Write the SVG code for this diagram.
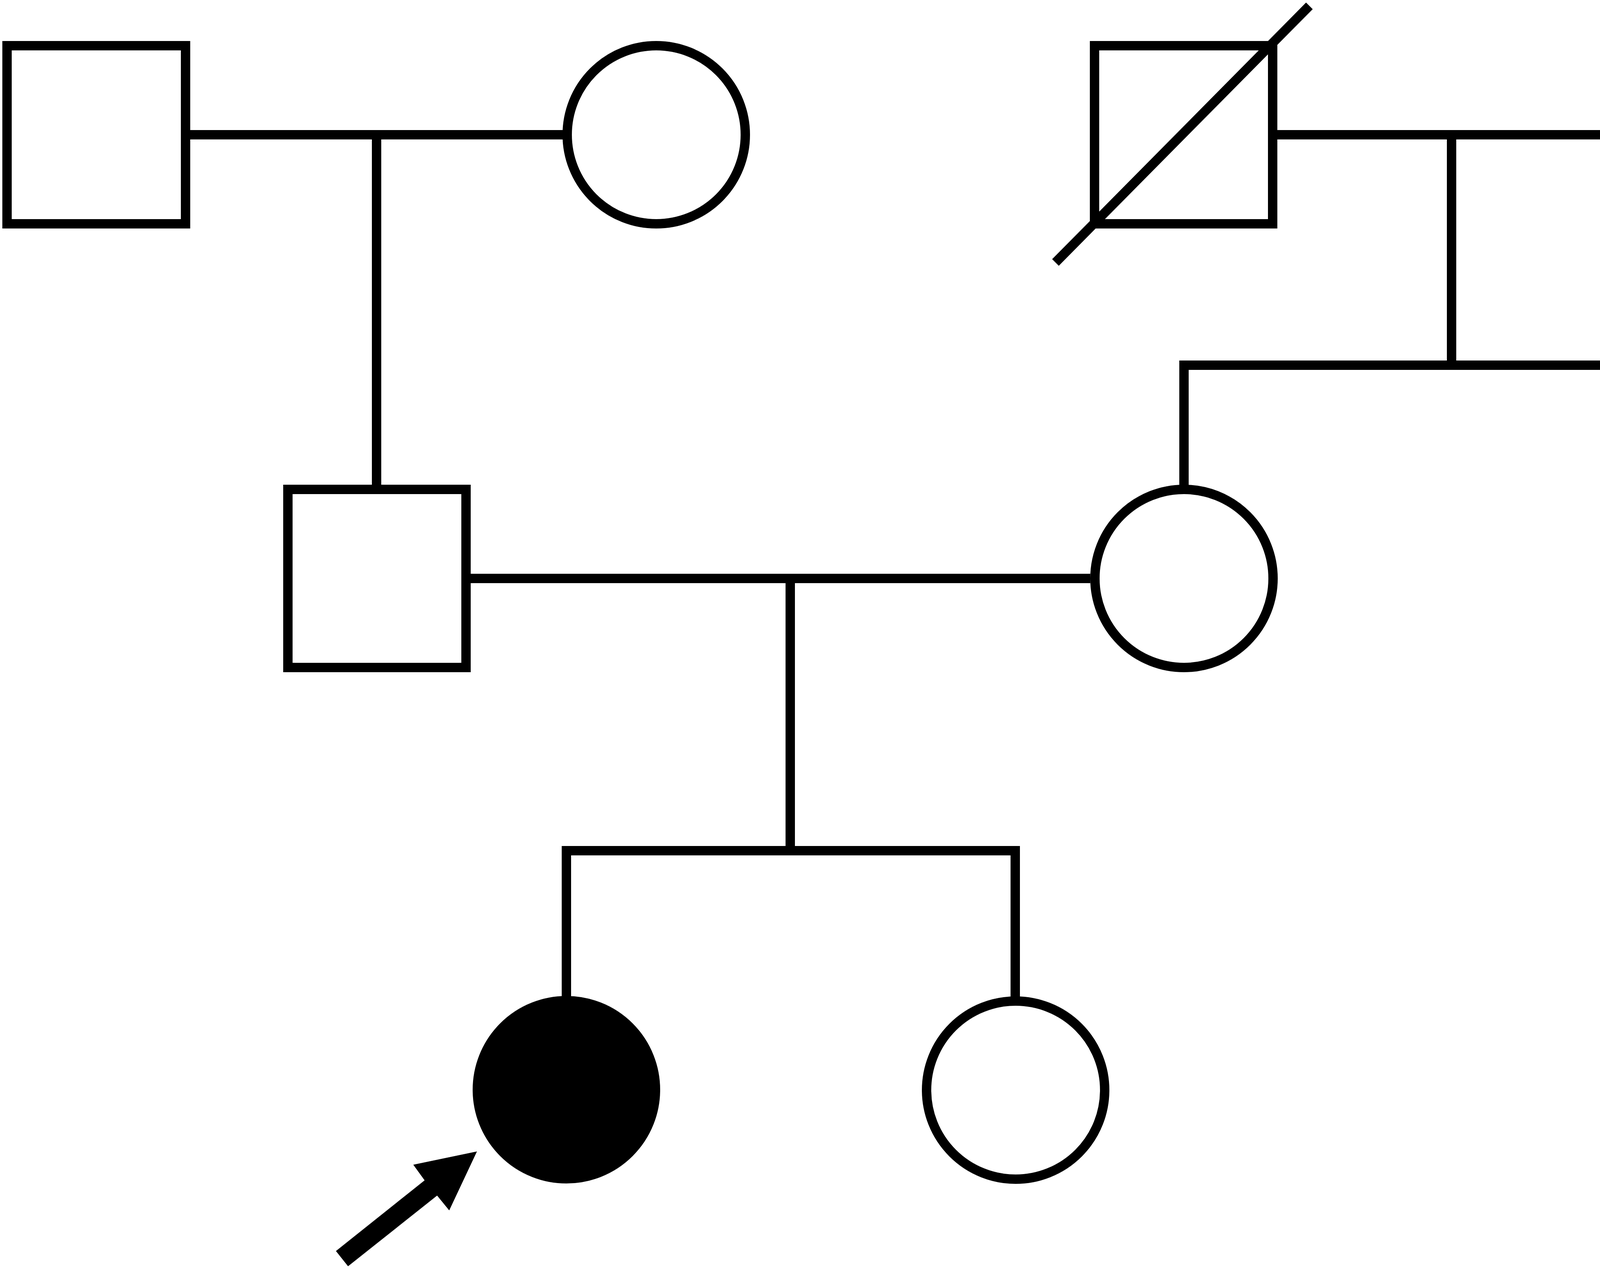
<svg xmlns="http://www.w3.org/2000/svg" width="4654" height="3249" viewBox="0 0 4654 3249">
<style>
.ln{fill:none;stroke:#000;stroke-width:24;stroke-linecap:butt;stroke-linejoin:miter}
.sq{fill:#fff;stroke:#000;stroke-width:24}
.ci{fill:#fff;stroke:#000;stroke-width:24}
.aff{fill:#000;stroke:#000;stroke-width:24}
</style>
<rect width="4654" height="3249" fill="#fff"/>
<g id="connectors">
<line class="ln" x1="487" y1="345" x2="1441" y2="345"/>
<line class="ln" x1="964" y1="345" x2="964" y2="1241"/>
<line class="ln" x1="3270" y1="345" x2="4166" y2="345"/>
<line class="ln" x1="3716" y1="345" x2="3716" y2="935"/>
<path class="ln" d="M3031,1242 V935 H4400 L4407,1241"/>
<line class="ln" x1="1205" y1="1481" x2="2791" y2="1481"/>
<line class="ln" x1="2023" y1="1481" x2="2023" y2="2178"/>
<path class="ln" d="M1450,2552 V2178 H2599 V2552"/>
</g>
<g id="gp1-male"><rect class="sq" x="18" y="117" width="457" height="456"/></g>
<g id="gp1-female"><circle class="ci" cx="1680" cy="345" r="228"/></g>
<g id="gp2-male-deceased">
<rect class="sq" x="2802" y="117" width="456" height="456"/>
<line class="ln" x1="2702" y1="672" x2="3352" y2="15"/>
</g>
<g id="gp2-female"><circle class="ci" cx="4406" cy="345" r="228"/></g>
<g id="father"><rect class="sq" x="737" y="1253" width="456" height="456"/></g>
<g id="mother"><circle class="ci" cx="3031" cy="1481" r="228"/></g>
<g id="uncle"><rect class="sq" x="4178" y="1253" width="457" height="456"/></g>
<g id="proband">
<circle class="aff" cx="1450" cy="2790" r="228"/>
<polygon points="860,3203 1087,3022 1058,2982 1221,2948 1150,3099 1119,3061 891,3242" fill="#000"/>
</g>
<g id="sister"><circle class="ci" cx="2600" cy="2791" r="228"/></g>
</svg>
